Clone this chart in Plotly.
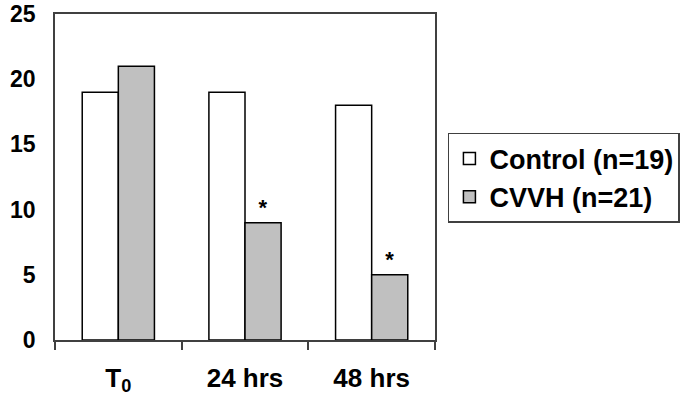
import plotly.graph_objects as go

categories = ["T<sub>0</sub>", "24 hrs", "48 hrs"]
control_values = [19, 19, 18]
cvvh_values = [21, 9, 5]
cvvh_marks = ["", "*", "*"]
y_ticks = [0, 5, 10, 15, 20, 25]

FONT = "Liberation Sans, Arial, sans-serif"
AXIS_COLOR = "#404040"

fig = go.Figure()
fig.add_trace(go.Bar(
    name="Control (n=19)", x=categories, y=control_values,
    marker=dict(color="white", line=dict(color="black", width=1.5)),
))
fig.add_trace(go.Bar(
    name="CVVH (n=21)", x=categories, y=cvvh_values,
    marker=dict(color="#c0c0c0", line=dict(color="black", width=1.5)),
    text=cvvh_marks, textposition="outside",
    textfont=dict(family=FONT, size=22, color="black"),
    cliponaxis=False,
))

fig.update_layout(
    width=685, height=399,
    margin=dict(l=55, r=250, t=14, b=59, autoexpand=False),
    paper_bgcolor="white", plot_bgcolor="white",
    barmode="group", bargap=0.43, bargroupgap=0,
    font=dict(family=FONT, color="black", weight="bold"),
    showlegend=True,
    legend=dict(
        x=1.034, y=0.635, xanchor="left", yanchor="top",
        bordercolor="#404040", borderwidth=1.5,
        font=dict(family=FONT, size=27, color="black", weight="bold"),
        tracegroupgap=0, bgcolor="white",
    ),
    uniformtext=dict(mode=False),
)
fig.update_xaxes(
    type="category", showline=True, linecolor=AXIS_COLOR, linewidth=1.5,
    mirror=True, ticks="outside", tickson="boundaries", ticklen=8,
    tickcolor=AXIS_COLOR, tickwidth=1.5, showgrid=False, automargin=False,
    tickfont=dict(family=FONT, size=26, color="black", weight="bold"),
    ticklabelstandoff=14,
)
fig.update_yaxes(
    range=[0, 25], tickvals=y_ticks, showline=True, linecolor=AXIS_COLOR,
    linewidth=1.5, mirror=True, ticks="", showgrid=False, zeroline=False,
    automargin=False,
    tickfont=dict(family=FONT, size=23, color="black", weight="bold"),
    ticklabelstandoff=13,
)

fig.write_html(
    "out.html",
    config={"displayModeBar": False},
    post_script="document.body.style.margin='0';document.body.style.overflow='hidden';",
)
